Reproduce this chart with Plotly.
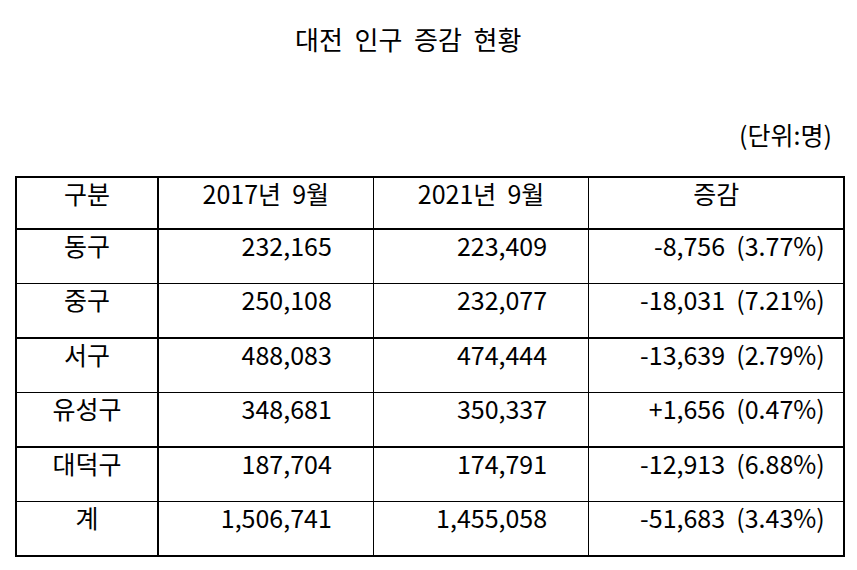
import plotly.graph_objects as go

title = "대전  인구  증감  현황"
unit = "(단위:명)"
headers = ["구분", "2017년\u00a0\u00a09월", "2021년\u00a0\u00a09월", "증감"]
districts = ["동구", "중구", "서구", "유성구", "대덕구", "계"]
pop_2017 = [232165, 250108, 488083, 348681, 187704, 1506741]
pop_2021 = [223409, 232077, 474444, 350337, 174791, 1455058]
change = [-8756, -18031, -13639, 1656, -12913, -51683]
change_pct = [3.77, 7.21, 2.79, 0.47, 6.88, 3.43]

W, H = 857, 570
pad = "\u00a0" * 6
col2 = [f"{v:,}" + pad for v in pop_2017]
col3 = [f"{v:,}" + pad for v in pop_2021]
col4 = [f"{c:+,}" + f"\u00a0\u00a0({p:.2f}%)\u00a0\u00a0" for c, p in zip(change, change_pct)]

font = dict(family="Noto Sans CJK KR", size=25, color="black")

fig = go.Figure(go.Table(
    domain=dict(x=[8 / W, 836 / W], y=[1 - 551 / H, 1 - 169 / H]),
    columnwidth=[142, 215, 215, 255],
    header=dict(values=headers, align="center", height=52, font=font,
                fill_color="white", line=dict(color="black", width=1.5)),
    cells=dict(values=[districts, col2, col3, col4],
               align=["center", "right", "right", "right"], height=54.5, font=font,
               fill_color="white", line=dict(color="black", width=1.5)),
))

fig.update_layout(
    width=W, height=H, margin=dict(l=0, r=0, t=0, b=0),
    paper_bgcolor="white", plot_bgcolor="white",
    annotations=[
        dict(text=title, x=400 / W, y=1 - 10 / H, xref="paper", yref="paper",
             showarrow=False, font=dict(family="Noto Sans CJK KR", size=26, color="black")),
        dict(text=unit, x=826 / W, y=1 - 106 / H, xref="paper", yref="paper",
             xanchor="right", showarrow=False,
             font=dict(family="Noto Sans CJK KR", size=25, color="black")),
    ],
)

fig.write_html("out.html")
